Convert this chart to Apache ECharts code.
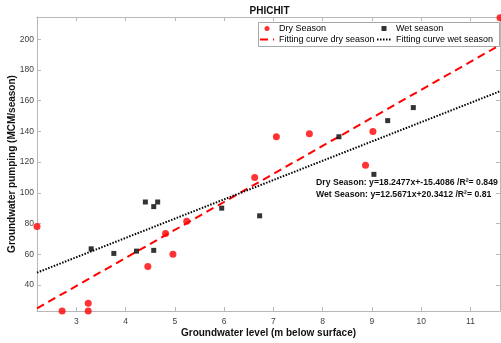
<!DOCTYPE html>
<html><head><meta charset="utf-8">
<script src="https://cdn.jsdelivr.net/npm/echarts@6/dist/echarts.min.js"></script>
<style>html,body{margin:0;padding:0;background:#fff}#c{width:501px;height:343px}</style>
</head><body><div id="c"></div>
<script>
// ---- data ----
const dryX = [2.2, 2.71, 3.24, 3.24, 4.45, 4.81, 4.96, 5.24, 6.62, 7.06, 7.73, 8.87, 9.02, 11.6];
const dryY = [78, 23, 28, 23, 52, 73.5, 60, 81.5, 110, 136.5, 138.5, 118, 140, 214];
const wetX = [3.30, 3.76, 4.22, 4.40, 4.57, 4.65, 4.57, 5.95, 6.72, 8.33, 9.04, 9.32, 9.84];
const wetY = [63.5, 60.5, 62, 94, 91, 94, 62.5, 90, 85, 136.5, 112, 147, 155.5];
const dryFit = [18.2477, -15.4086];   // slope, intercept
const wetFit = [12.5671, 20.3412];
const dryR2 = '0.849';
const wetR2 = '0.81';
const xRange = [2.2, 11.6];
const yRange = [23, 214.5];
const xTicks = [3, 4, 5, 6, 7, 8, 9, 10, 11];
const yTicks = [40, 60, 80, 100, 120, 140, 160, 180, 200];
const titleText = 'PHICHIT';
const xName = 'Groundwater level (m below surface)';
const yName = 'Groundwater pumping (MCM/season)';
const names = ['Dry Season', 'Wet season', 'Fitting curve dry season', 'Fitting curve wet season'];

const FONT = '"Liberation Sans", Arial, Helvetica, sans-serif';
const AX = '#b8b8b8';
const zip = (a, b) => a.map((v, i) => [v, b[i]]);
const fitLine = f => xRange.map(x => [x, f[0] * x + f[1]]);

function xAx(pos, show) {
  return {
    type: 'value', position: pos, min: xRange[0], max: xRange[1],
    axisLine: { show: true, onZero: false, lineStyle: { color: AX, width: 1 } },
    axisTick: { show: true, inside: true, length: 4, customValues: xTicks, lineStyle: { color: AX } },
    axisLabel: { show: show, customValues: xTicks, fontSize: 8.5, color: '#404040', margin: 6, fontFamily: FONT },
    splitLine: { show: false },
    name: show ? xName : '', nameLocation: 'middle', nameGap: 17, nameMoveOverlap: false,
    nameTextStyle: { fontSize: 10, fontWeight: 'bold', color: '#111', fontFamily: FONT }
  };
}
function yAx(pos, show) {
  return {
    type: 'value', position: pos, min: yRange[0], max: yRange[1],
    axisLine: { show: true, onZero: false, lineStyle: { color: AX, width: 1 } },
    axisTick: { show: true, inside: true, length: 4, customValues: yTicks, lineStyle: { color: AX } },
    axisLabel: { show: show, customValues: yTicks, fontSize: 8.5, color: '#404040', margin: 3, fontFamily: FONT },
    splitLine: { show: false },
    name: show ? yName : '', nameLocation: 'middle', nameGap: 20, nameRotate: 90, nameMoveOverlap: false,
    nameTextStyle: { fontSize: 10, fontWeight: 'bold', color: '#111', fontFamily: FONT }
  };
}

const hideDot = { color: 'rgba(0,0,0,0)', borderWidth: 0 };
const legendCommon = {
  top: 23, orient: 'vertical', padding: 0, itemGap: 0,
  itemWidth: 14, itemHeight: 5, z: 5,
  textStyle: { fontSize: 9, color: '#000', lineHeight: 11, fontFamily: FONT }
};

const chart = echarts.init(document.getElementById('c'), null, { renderer: 'canvas' });
chart.setOption({
  animation: false,
  backgroundColor: '#fff',
  textStyle: { fontFamily: FONT },
  grid: { left: 37, right: 1, top: 17, bottom: 32, containLabel: false, outerBoundsMode: 'none' },
  xAxis: [xAx('bottom', true), xAx('top', false)],
  yAxis: [yAx('left', true), yAx('right', false)],
  legend: [
    Object.assign({}, legendCommon, { left: 259,
      data: [{ name: names[0], icon: 'circle' }, { name: names[2], itemStyle: hideDot }] }),
    Object.assign({}, legendCommon, { left: 376,
      data: [{ name: names[1], icon: 'path://M0,0h10v10h-10z' }, { name: names[3], itemStyle: hideDot }] })
  ],
  graphic: [
    { type: 'rect', z: 3, shape: { x: 258.5, y: 22.5, width: 241, height: 24 },
      style: { fill: '#fff', stroke: '#a8a8a8', lineWidth: 1 } },
    { type: 'text', z: 6, x: 269.5, y: 11,
      style: { text: titleText, font: 'bold 10px ' + FONT, fill: '#111', align: 'center', verticalAlign: 'middle' } },
    { type: 'text', z: 6, x: 316, y: 183,
      style: { text: 'Dry Season: y=' + dryFit[0] + 'x+' + dryFit[1] + ' /R²= ' + dryR2,
        font: 'bold 8.7px ' + FONT, fill: '#111', verticalAlign: 'middle' } },
    { type: 'text', z: 6, x: 316, y: 195,
      style: { text: 'Wet Season: y=' + wetFit[0] + 'x+' + wetFit[1] + ' /R²= ' + wetR2,
        font: 'bold 8.7px ' + FONT, fill: '#111', verticalAlign: 'middle' } }
  ],
  series: [
    { name: names[0], type: 'scatter', data: zip(dryX, dryY), symbol: 'circle', symbolSize: 7,
      itemStyle: { color: '#ff0000' }, z: 4 },
    { name: names[1], type: 'scatter', data: zip(wetX, wetY), symbol: 'rect', symbolSize: 5,
      itemStyle: { color: '#000' }, z: 4 },
    { name: names[2], type: 'line', data: fitLine(dryFit), symbol: 'none', clip: true,
      lineStyle: { color: '#ff0000', width: 2, type: [8, 5] }, itemStyle: { color: '#ff0000' } },
    { name: names[3], type: 'line', data: fitLine(wetFit), symbol: 'none', clip: true,
      lineStyle: { color: '#000', width: 2, type: [1.5, 1.5] }, itemStyle: { color: '#000' } }
  ]
});
</script>
</body></html>
